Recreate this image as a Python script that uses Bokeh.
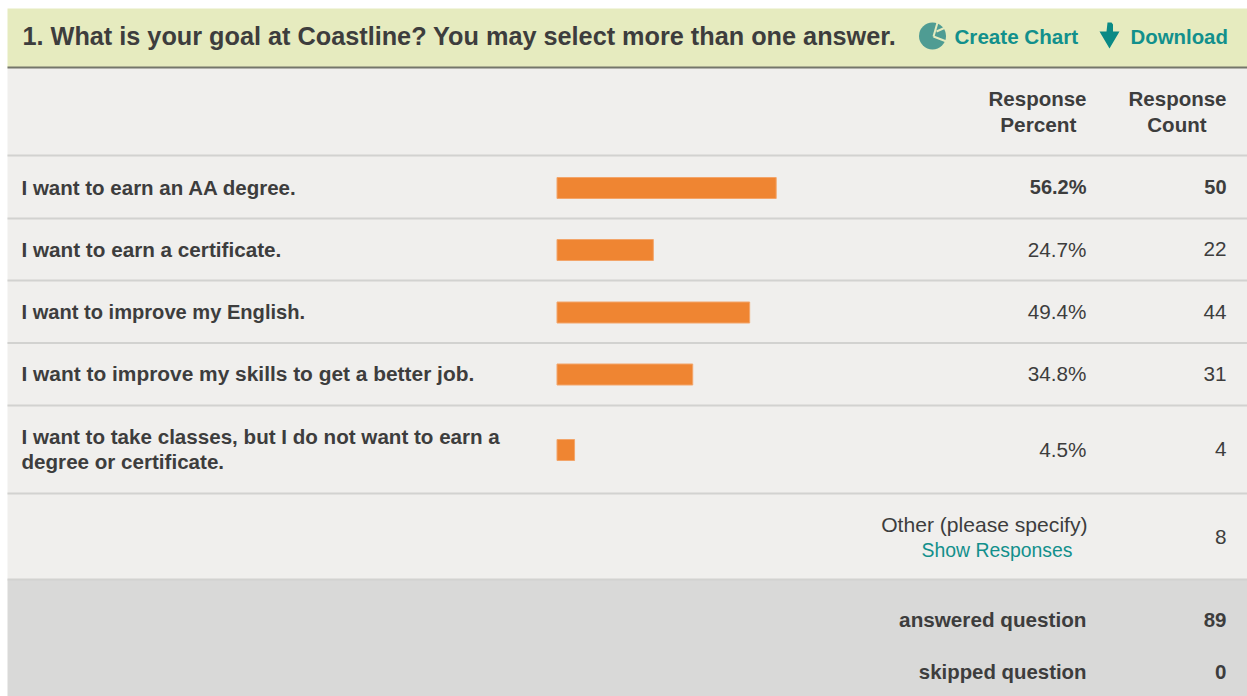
from bokeh.core.properties import value
from bokeh.embed import file_html
from bokeh.models import Range1d
from bokeh.plotting import figure
from bokeh.resources import INLINE

WIDTH, HEIGHT = 1247, 696

question = "1. What is your goal at Coastline? You may select more than one answer."
choices = ["I want to earn an AA degree.", "I want to earn a certificate.",
           "I want to improve my English.", "I want to improve my skills to get a better job."]
long_choice = ["I want to take classes, but I do not want to earn a", "degree or certificate."]
percents = [56.2, 24.7, 49.4, 34.8, 4.5]
counts = [50, 22, 44, 31, 4]
other_count = 8
answered, skipped = 89, 0

row_centers = [187.5, 249.5, 312, 374, 449.5]
choice_sizes = [20.5, 20.7, 20.1, 20.9]
separators = [155, 218, 280, 342.5, 405, 493, 579]
FONT = "Liberation Sans"
INK = "#3d3d3d"
TEAL = "#12908c"
LEFT = 7

p = figure(width=WIDTH, height=HEIGHT, output_backend="svg", toolbar_location=None,
           x_range=Range1d(0, WIDTH), y_range=Range1d(HEIGHT, 0),
           min_border=0, outline_line_color=None, background_fill_color="white",
           border_fill_color="white")
p.axis.visible = False
p.grid.visible = False

# Percent scale for the bars: 0% starts at the left end of the bar column.
PX_PER_PCT = 3.9
BAR_ORIGIN = 556.5
p.extra_x_ranges["pct"] = Range1d(-BAR_ORIGIN / PX_PER_PCT, (WIDTH - BAR_ORIGIN) / PX_PER_PCT)

# Panel bands
p.quad(left=LEFT, right=WIDTH, top=8, bottom=67, fill_color="#e6ebbf", line_color=None)
p.quad(left=LEFT, right=WIDTH, top=67, bottom=579, fill_color="#f0efed", line_color=None)
p.quad(left=LEFT, right=WIDTH, top=579, bottom=HEIGHT, fill_color="#d9d9d8", line_color=None)
p.segment(x0=LEFT, x1=WIDTH, y0=67, y1=67, line_color="#74766a", line_width=2)
p.segment(x0=[LEFT] * len(separators), x1=[WIDTH] * len(separators), y0=separators, y1=separators,
          line_color="#d2d2d0", line_width=2)


def label(x, y, text, size, color=INK, style="bold", align="left"):
    # Middle-baseline text sits about a pixel low, so it is lifted here.
    p.text(x=[x], y=[y - 1], text=[text], text_font=value(FONT), text_font_size=f"{size}px",
           text_font_style=style, text_color=color, text_align=align, text_baseline="middle")


# Header
label(22, 36, question, 25.25)
label(954, 37, "Create Chart", 20.6, TEAL)
label(1130, 37, "Download", 20.4, TEAL)
p.scatter(x=[932], y=[35.5], size=27, marker="circle", fill_color="#4f9c93", line_color=None)
p.segment(x0=[933, 933, 936], y0=[36, 36, 31], x1=[937, 946, 945], y1=[22, 41, 27],
          line_color="#e6ebbf", line_width=2)
p.patch(x=[1106, 1107, 1111, 1112.5, 1112.5, 1119, 1109, 1099, 1106],
        y=[31, 22, 22, 24, 31, 31, 48, 31, 31],
        fill_color="#0a8a85", line_color=None)

# Column headings
label(1086, 99, "Response", 20.5, align="right")
label(1076, 125, "Percent", 20.8, align="right")
label(1226, 99, "Response", 20.5, align="right")
label(1206, 125, "Count", 20.5, align="right")

# Answer rows
for text, y, size in zip(choices, row_centers, choice_sizes):
    label(21, y, text, size)
label(21, 437, long_choice[0], 20.6)
label(21, 462, long_choice[1], 20.6)

p.hbar(y=row_centers, left=0, right=percents, height=21, x_range_name="pct",
       fill_color="#ef8532", line_color="#f3a56a", line_width=1)

for i, (pct, count, y) in enumerate(zip(percents, counts, row_centers)):
    style = "bold" if i == 0 else "normal"
    size = 20 if i == 0 else 20.7
    label(1086, y, f"{pct}%", size, style=style, align="right")
    label(1226, y, str(count), size, style=style, align="right")

# Open-ended row
label(1087, 525, "Other (please specify)", 21.1, style="normal", align="right")
label(1072, 550, "Show Responses", 19.4, TEAL, "normal", "right")
label(1226, 537, str(other_count), 20.7, style="normal", align="right")

# Totals
label(1086, 620, "answered question", 20.7, align="right")
label(1226, 620, str(answered), 20.5, align="right")
label(1086, 672, "skipped question", 20.4, align="right")
label(1226, 672, str(skipped), 20.5, align="right")

open("out.html", "w").write(file_html(p, INLINE))
